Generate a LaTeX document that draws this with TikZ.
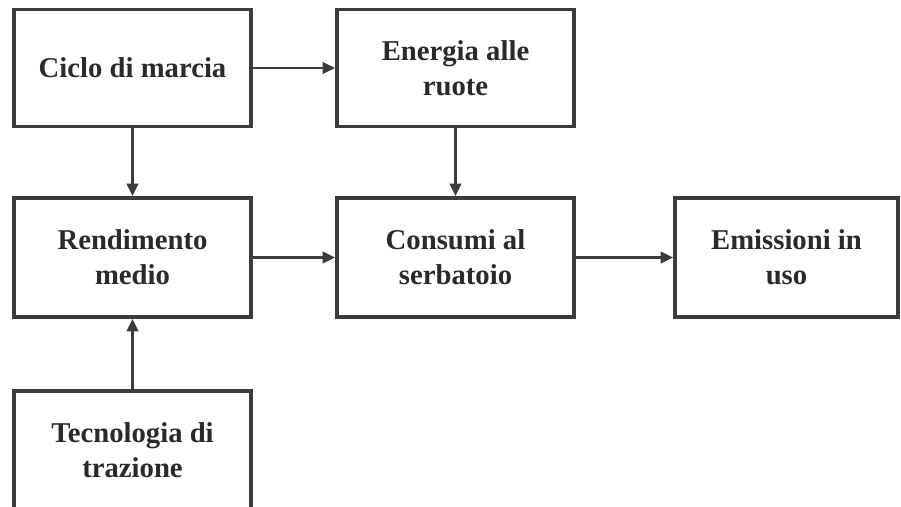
\documentclass[tikz,border=0pt]{standalone}
\usepackage{fontspec}
\setmainfont{Liberation Serif}
\usetikzlibrary{arrows.meta}
\definecolor{ink}{HTML}{2A2A2A}
\definecolor{edge}{HTML}{3C3C3C}

\begin{document}
\begin{tikzpicture}[x=0.03cm,y=-0.03cm,
    font=\fontsize{24.5}{30}\selectfont\bfseries,text=ink,
    >={Triangle[length=0.38cm,width=0.34cm]},
    block/.style={draw=edge,line width=3pt,align=center,
      minimum width=7.11cm,minimum height=3.5cm,inner sep=0pt},
    flow/.style={->,draw=edge,line width=2.4pt}]
  \clip (0,0) rectangle (901,506);

  \node[block] (ciclo) at (132.5,68) {Ciclo di marcia};
  \node[block] (energia) at (455.5,68) {Energia alle\\ruote};
  \node[block,minimum height=3.57cm] (rend) at (132.5,257.5)
    {Rendimento\\medio};
  \node[block,minimum height=3.57cm] (consumi) at (455.5,257.5)
    {Consumi al\\serbatoio};
  \node[block,minimum width=6.69cm,minimum height=3.57cm] (emiss)
    at (786.5,257.5) {Emissioni in\\uso};
  \node[block,minimum height=3.57cm] (tecno) at (132.5,450.5)
    {Tecnologia di\\trazione};

  \draw[flow] (ciclo) -- (energia);
  \draw[flow] (ciclo) -- (rend);
  \draw[flow] (energia) -- (consumi);
  \draw[flow] (rend) -- (consumi);
  \draw[flow] (consumi) -- (emiss);
  \draw[flow] (tecno) -- (rend);
\end{tikzpicture}
\end{document}
